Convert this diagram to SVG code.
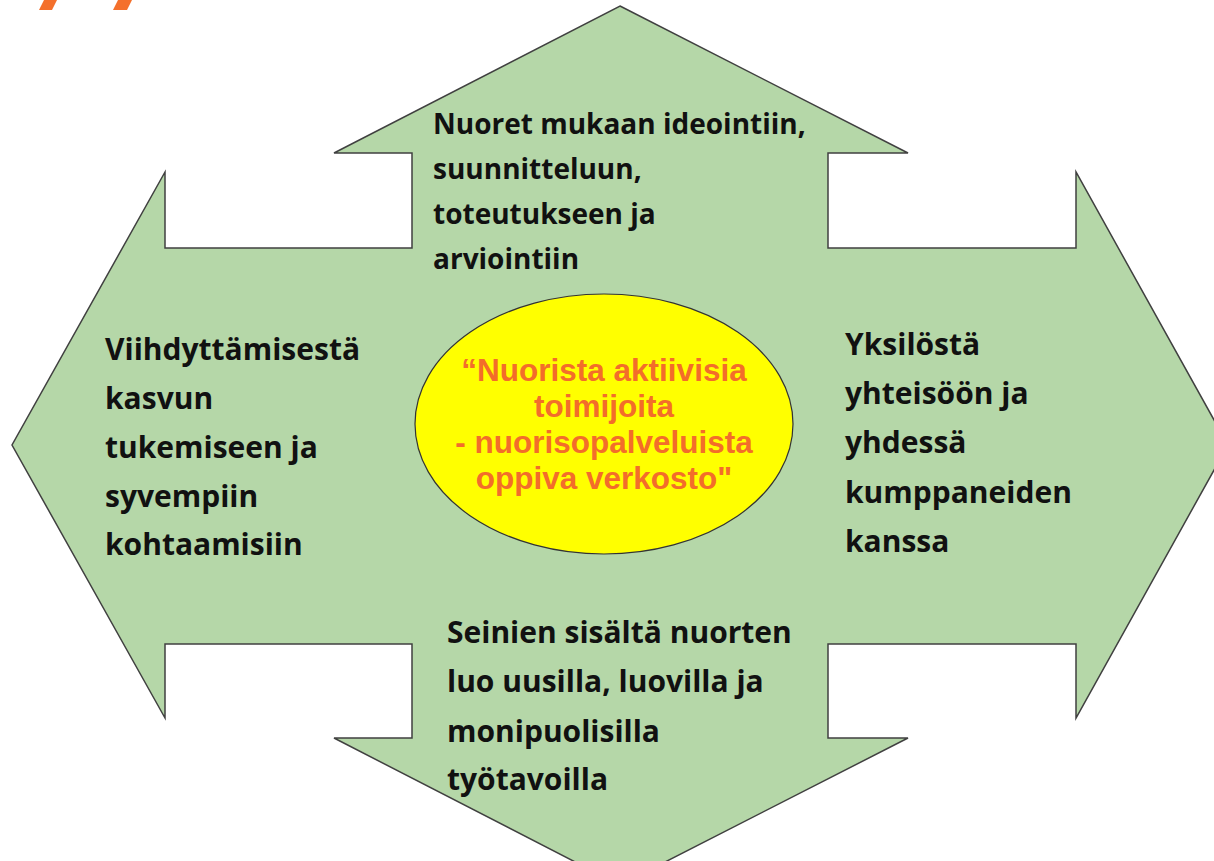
<svg xmlns="http://www.w3.org/2000/svg" width="1214" height="861" viewBox="0 0 1214 861">
  <style>
    .shape { fill: #B5D7A8; stroke: #404040; stroke-width: 1.5; stroke-linejoin: miter; }
    .lbl { font-family: "Open Sans", "Noto Sans", "Liberation Sans", sans-serif; font-weight: bold; font-size: 30px; fill: #111111; }
    .lbl-top { font-size: 28px; }
    .core { font-family: "Liberation Sans", Arial, sans-serif; font-weight: bold; font-size: 31.5px; fill: #F36D2A; text-anchor: middle; }
    .accent { fill: #F4702C; }
  </style>
  <rect x="0" y="0" width="1214" height="861" fill="#FFFFFF"/>
  <g id="logo-fragment">
    <polygon class="accent" points="39,10 52,10 57,0 44,0"/>
    <polygon class="accent" points="113,10 127,10 132,0 118,0"/>
  </g>
  <g id="four-way-arrow">
    <polygon class="shape" points="620,6 908,153 828,153 828,248 1076,248 1076,172 1228,445 1076,718 1076,644 828,644 828,738 908,738 620,885 334,738 412,738 412,644 165,644 165,718 12,445 165,172 165,248 412,248 412,153 334,153"/>
  </g>
  <g id="node-top">
    <text class="lbl lbl-top" x="433" y="134">Nuoret mukaan ideointiin,</text>
    <text class="lbl lbl-top" x="433" y="179">suunnitteluun,</text>
    <text class="lbl lbl-top" x="433" y="224">toteutukseen ja</text>
    <text class="lbl lbl-top" x="433" y="269">arviointiin</text>
  </g>
  <g id="node-left">
    <text class="lbl" x="105" y="360">Viihdyttämisestä</text>
    <text class="lbl" x="105" y="409">kasvun</text>
    <text class="lbl" x="105" y="458">tukemiseen ja</text>
    <text class="lbl" x="105" y="507">syvempiin</text>
    <text class="lbl" x="105" y="555">kohtaamisiin</text>
  </g>
  <g id="node-right">
    <text class="lbl" x="845" y="355">Yksilöstä</text>
    <text class="lbl" x="845" y="404">yhteisöön ja</text>
    <text class="lbl" x="845" y="453">yhdessä</text>
    <text class="lbl" x="845" y="503">kumppaneiden</text>
    <text class="lbl" x="845" y="552">kanssa</text>
  </g>
  <g id="node-bottom">
    <text class="lbl" x="447" y="643">Seinien sisältä nuorten</text>
    <text class="lbl" x="447" y="692">luo uusilla, luovilla ja</text>
    <text class="lbl" x="447" y="742">monipuolisilla</text>
    <text class="lbl" x="447" y="790">työtavoilla</text>
  </g>
  <g id="node-center">
    <ellipse cx="604" cy="424" rx="189" ry="130" fill="#FFFF00" stroke="#333333" stroke-width="1.2"/>
    <text class="core" x="604" y="381">“Nuorista aktiivisia</text>
    <text class="core" x="604" y="417">toimijoita</text>
    <text class="core" x="604" y="453">- nuorisopalveluista</text>
    <text class="core" x="604" y="489">oppiva verkosto"</text>
  </g>
</svg>
